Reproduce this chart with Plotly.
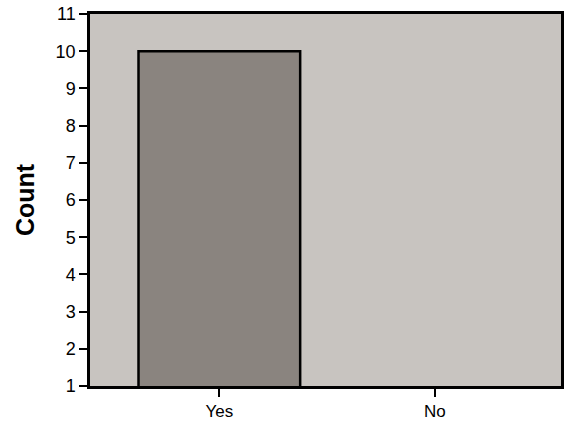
import plotly.graph_objects as go

categories = ["Yes", "No"]
counts = [10, 1]
y_ticks = list(range(1, 12))

fig = go.Figure()
fig.add_trace(go.Bar(
    x=categories, y=counts, width=0.75,
    marker=dict(color="#8a847f", line=dict(color="black", width=[2.5, 0])),
))

fig.update_layout(
    width=568, height=425,
    margin=dict(l=90, r=4, t=12, b=38),
    paper_bgcolor="white", plot_bgcolor="#c8c4c0",
    showlegend=False,
    font=dict(family="Liberation Sans, Arial", color="black", size=16),
)
fig.update_xaxes(
    range=[-0.6, 1.585], showline=True, linecolor="black", linewidth=2.5, mirror=True,
    ticks="outside", ticklen=8, tickwidth=2, tickcolor="black", showgrid=False,
    tickfont=dict(size=17),
)
fig.update_yaxes(
    range=[1, 11], tickvals=y_ticks, showline=True, linecolor="black", linewidth=2.5, mirror=True,
    ticks="outside", ticklen=8, tickwidth=2, tickcolor="black", showgrid=False, zeroline=False,
    tickfont=dict(size=18),
    title=dict(text="<b>Count</b>", font=dict(size=25), standoff=14),
)

fig.write_html("out.html", config={"displayModeBar": False},
               post_script="document.body.style.margin='0';")
